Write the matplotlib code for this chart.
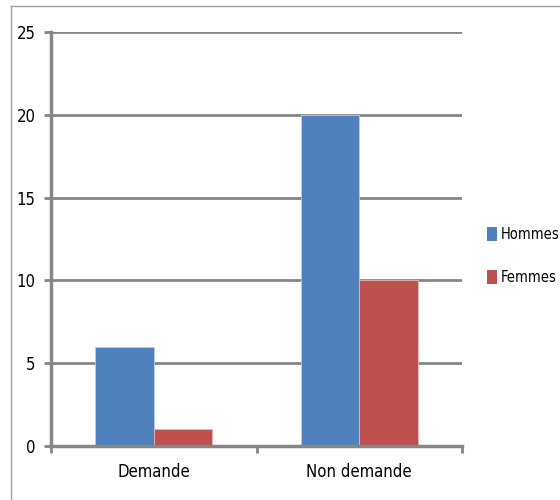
import matplotlib
matplotlib.use("Agg")
import matplotlib.pyplot as plt
import numpy as np
from matplotlib.lines import Line2D
from matplotlib.patches import Patch

plt.rcParams["font.family"] = ["Liberation Sans Narrow", "DejaVu Sans"]
plt.rcParams["font.stretch"] = "condensed"

categories = ["Demande", "Non demande"]
series_names = ["Hommes", "Femmes"]
hommes = [6, 20]
femmes = [1, 10]
yticks = [0, 5, 10, 15, 20, 25]

BLUE = "#4F81BD"
RED = "#C0504D"
GRAY = "#868686"

fig = plt.figure(figsize=(5.6, 5.0), dpi=100)
ax = fig.add_axes([51 / 560, 1 - 446 / 500, (462 - 51) / 560, (446 - 32) / 500])

x = np.arange(len(categories))
w = 1 / 3.5
ax.bar(x - w / 2, hommes, w, color=BLUE, edgecolor="#B9CDE5", linewidth=0.6, zorder=3)
ax.bar(x + w / 2, femmes, w, color=RED, edgecolor="#E6B9B8", linewidth=0.6, zorder=3)

ax.set_xlim(-0.5, len(categories) - 0.5)
ax.set_ylim(0, 25)
ax.set_yticks(yticks)
ax.set_xticks(x)
ax.set_xticklabels(categories, fontsize=12)
ax.set_xticks([-0.5, 0.5, 1.5], minor=True)
ax.tick_params(axis="x", which="major", length=0, pad=12)
ax.tick_params(axis="x", which="minor", length=5, width=2, color=GRAY)
ax.tick_params(axis="y", length=5, width=2, color=GRAY, labelsize=12, pad=6)

ax.grid(axis="y", color=GRAY, linewidth=2, zorder=0)
for side in ["top", "right"]:
    ax.spines[side].set_visible(False)
for side in ["left", "bottom"]:
    ax.spines[side].set_color(GRAY)
    ax.spines[side].set_linewidth(2.5)
    ax.spines[side].set_zorder(4)

handles = [Patch(facecolor=BLUE), Patch(facecolor=RED)]
fig.legend(handles, series_names, loc="center left", bbox_to_anchor=(481 / 560, 1 - 256 / 500),
           frameon=False, fontsize=10.5, handlelength=0.7, handleheight=1.05,
           handletextpad=0.25, labelspacing=1.95, borderaxespad=0)

# outer chart border (only left and top visible)
fig.add_artist(Line2D([11 / 560, 11 / 560], [0, 1 - 6 / 500], color="#A0A0A0", linewidth=1))
fig.add_artist(Line2D([11 / 560, 1], [1 - 6 / 500, 1 - 6 / 500], color="#A0A0A0", linewidth=1))

fig.savefig("out.png", dpi=100)
